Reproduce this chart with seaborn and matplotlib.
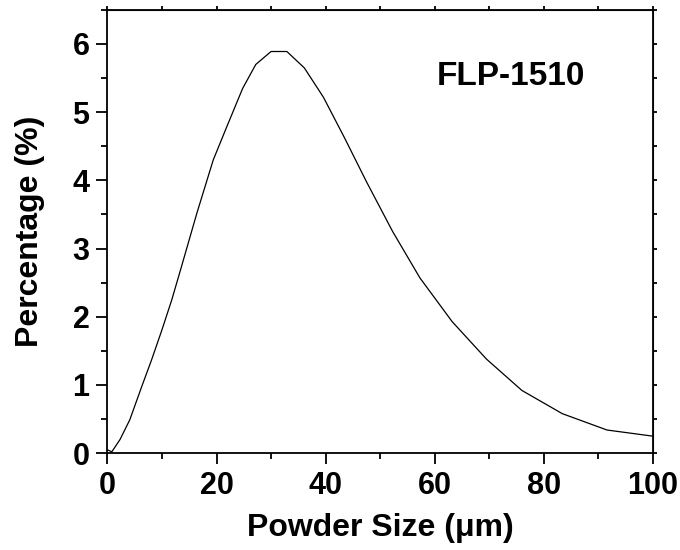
import pandas as pd
import matplotlib
matplotlib.use("Agg")
import matplotlib.pyplot as plt
import seaborn as sns
from matplotlib.ticker import MultipleLocator

# Particle size distribution
size_um = [0, 0.8, 2.3, 4.1, 6.3, 8.1, 10.0, 11.8, 13.3, 16.4, 19.4, 21.9,
           24.8, 27.2, 30.0, 32.9, 36.1, 39.6, 43.5, 47.5, 52.3, 57.3,
           63.2, 69.5, 76.0, 83.4, 91.6, 100]
percent = [0.05, 0.02, 0.20, 0.49, 0.98, 1.37, 1.81, 2.25, 2.66, 3.52, 4.30, 4.79,
           5.35, 5.70, 5.89, 5.89, 5.65, 5.22, 4.62, 3.98, 3.25, 2.57,
           1.93, 1.38, 0.92, 0.58, 0.34, 0.25]
sample_name = "FLP-1510"

df = pd.DataFrame({"size": size_um, "pct": percent})

sns.set_style("ticks")
plt.rcParams["font.family"] = ["Liberation Sans", "DejaVu Sans"]
plt.rcParams["font.weight"] = "bold"
plt.rcParams["text.color"] = "black"
plt.rcParams["axes.labelcolor"] = "black"

fig = plt.figure(figsize=(6.8, 5.5), dpi=100)
ax = fig.add_axes([0.158, 0.176, 0.802, 0.806])

sns.lineplot(data=df, x="size", y="pct", sort=False, color="black", linewidth=0.9, ax=ax)

ax.set_xlim(0, 100)
ax.set_ylim(0, 6.5)
ax.xaxis.set_major_locator(MultipleLocator(20))
ax.xaxis.set_minor_locator(MultipleLocator(10))
ax.yaxis.set_major_locator(MultipleLocator(1))
ax.yaxis.set_minor_locator(MultipleLocator(0.5))

for s in ax.spines.values():
    s.set_visible(True)
    s.set_linewidth(1.3)
    s.set_color("black")

ax.tick_params(which="major", direction="out", length=8, width=1.3, labelsize=22, pad=5,
               colors="black", labelcolor="black")
ax.tick_params(which="minor", direction="out", length=4.5, width=1.3, colors="black")
for lab in ax.get_xticklabels() + ax.get_yticklabels():
    lab.set_fontweight("bold")

# short ticks on the top and right frame
top = ax.secondary_xaxis("top")
top.xaxis.set_major_locator(MultipleLocator(10))
top.tick_params(direction="out", length=3, width=1.3, labelsize=0, colors="black")
top.set_xticklabels([])
right = ax.secondary_yaxis("right")
right.yaxis.set_major_locator(MultipleLocator(0.5))
right.tick_params(direction="out", length=3, width=1.3, labelsize=0, colors="black")
right.set_yticklabels([])

ax.set_xlabel("Powder Size (μm)", fontsize=23, fontweight="bold", color="black")
ax.set_ylabel("Percentage (%)", fontsize=23, fontweight="bold", color="black")
ax.xaxis.set_label_coords(0.5, -0.135)
ax.yaxis.set_label_coords(-0.115, 0.5)

ax.text(74, 5.40, sample_name, ha="center", va="baseline", fontsize=24,
        fontweight="bold", color="black")

fig.savefig("out.png", dpi=100)
